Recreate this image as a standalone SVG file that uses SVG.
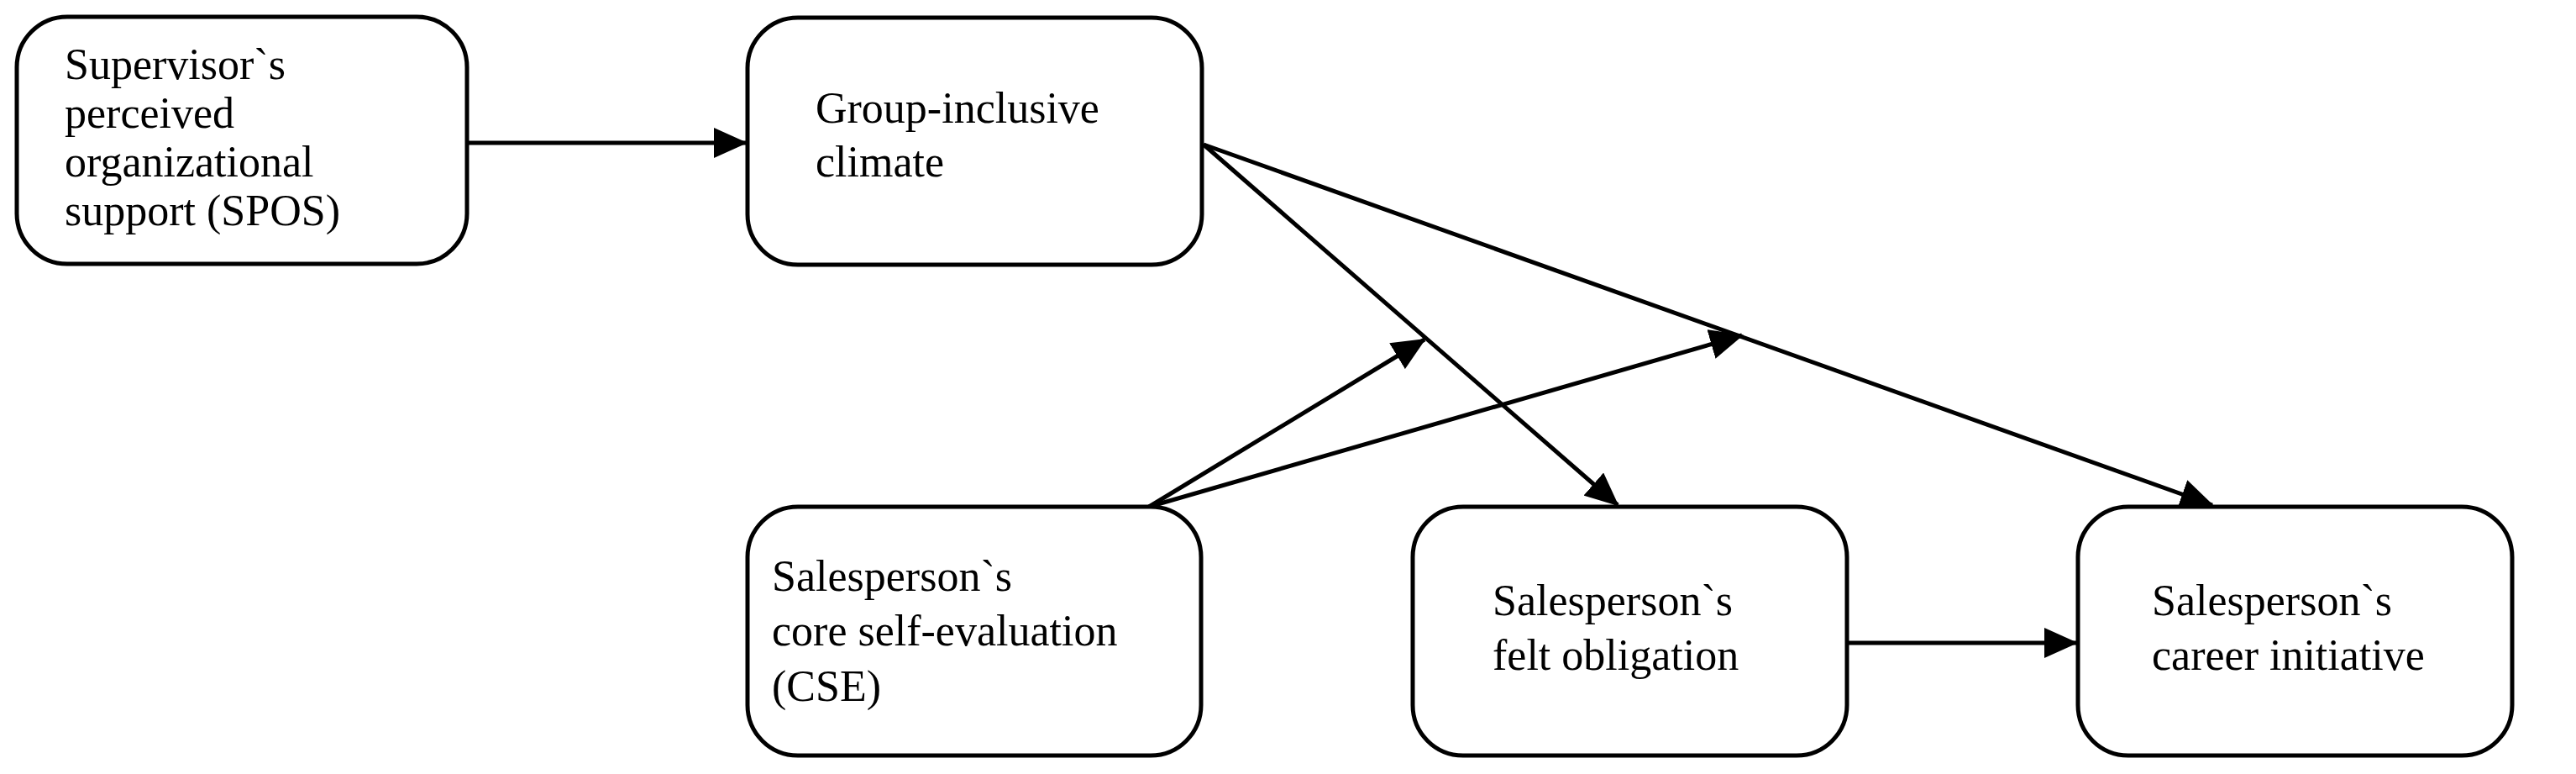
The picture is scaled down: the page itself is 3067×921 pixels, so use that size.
<svg xmlns="http://www.w3.org/2000/svg" width="3067" height="921" viewBox="0 0 3067 921">
<style>
.box{fill:#fff;stroke:#000;stroke-width:5}
text{font-family:"Liberation Serif","Times New Roman",serif;font-size:52px;fill:#000}
.c{stroke:#000;stroke-width:5;fill:none;marker-end:url(#ah)}
</style>
<defs>
<marker id="ah" markerUnits="userSpaceOnUse" markerWidth="40" markerHeight="36" viewBox="0 0 40 36" refX="38" refY="18" orient="auto">
<path d="M0,0 L40,18 L0,36 Z" fill="#000"/>
</marker>
</defs>
<rect width="3067" height="921" fill="#fff"/>
<g id="connectors">
<line class="c" x1="556" y1="170" x2="888" y2="170"/>
<line class="c" x1="1433" y1="172" x2="1926" y2="601"/>
<line class="c" x1="1433" y1="172" x2="2634" y2="601"/>
<line class="c" x1="1368" y1="603" x2="1696" y2="404"/>
<line class="c" x1="1368" y1="603" x2="2074" y2="399"/>
<line class="c" x1="2199" y1="765" x2="2472" y2="765"/>
</g>
<g id="spos"><rect class="box" x="20" y="20" width="536" height="294" rx="60"/>
<text x="77" y="94">Supervisor`s</text><text x="77" y="152">perceived</text><text x="77" y="210">organizational</text><text x="77" y="268">support (SPOS)</text></g>
<g id="climate"><rect class="box" x="890" y="21" width="541" height="294" rx="60"/>
<text x="971" y="146">Group-inclusive</text><text x="971" y="210">climate</text></g>
<g id="cse"><rect class="box" x="890" y="603" width="540" height="296" rx="60"/>
<text x="919" y="703">Salesperson`s</text><text x="919" y="768">core self-evaluation</text><text x="919" y="834">(CSE)</text></g>
<g id="obligation"><rect class="box" x="1682" y="603" width="517" height="296" rx="60"/>
<text x="1777" y="732">Salesperson`s</text><text x="1777" y="797">felt obligation</text></g>
<g id="initiative"><rect class="box" x="2474" y="603" width="517" height="296" rx="60"/>
<text x="2562" y="732">Salesperson`s</text><text x="2562" y="797">career initiative</text></g>
</svg>
